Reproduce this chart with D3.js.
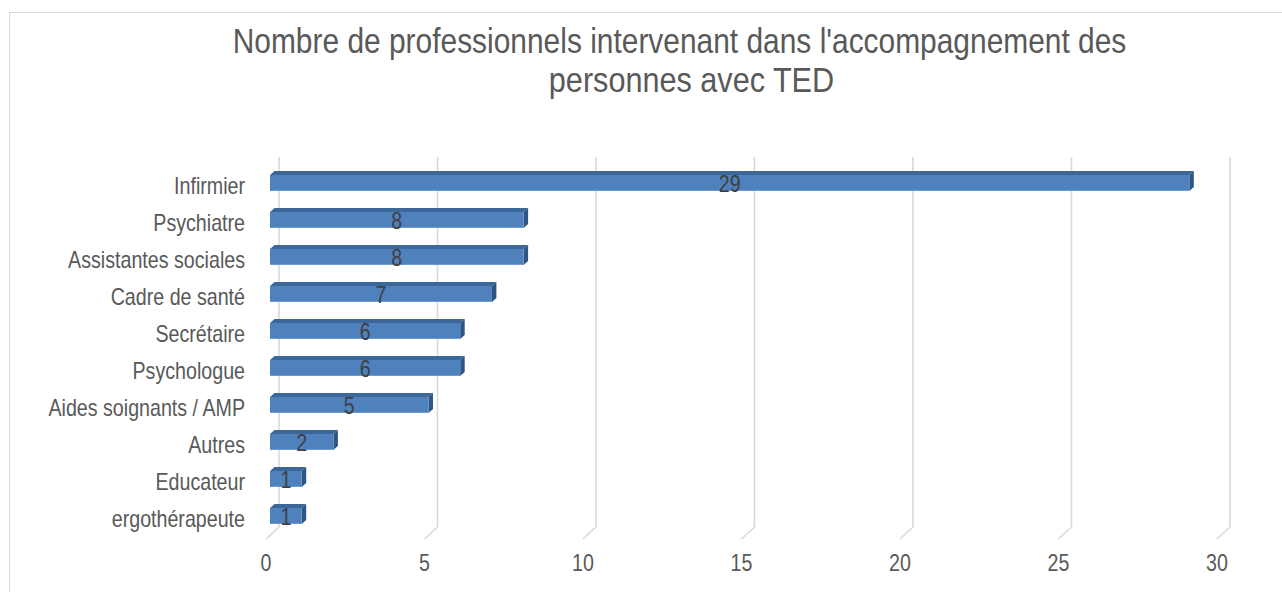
<!DOCTYPE html>
<html><head><meta charset="utf-8">
<script src="https://cdn.jsdelivr.net/npm/d3@7"></script>
<style>body{margin:0;background:#fff;} svg{display:block;}</style>
</head><body>
<svg id="c" width="1282" height="592"></svg>
<script>
const categories = ["Infirmier","Psychiatre","Assistantes sociales","Cadre de santé","Secrétaire","Psychologue","Aides soignants / AMP","Autres","Educateur","ergothérapeute"];
const values = [29,8,8,7,6,6,5,2,1,1];
const ticks = [0,5,10,15,20,25,30];
const titleLines = ["Nombre de professionnels intervenant dans l'accompagnement des","personnes avec TED"];

const svg = d3.select("#c");
const SX = 0.855;
const FONT = "'Liberation Sans', Arial, sans-serif";

svg.append("rect").attr("x",9.5).attr("y",12.5).attr("width",1300).attr("height",600)
  .attr("fill","#fff").attr("stroke","#d9d9d9").attr("stroke-width",1);

const x = d3.scaleLinear().domain([0,30]).range([279,1230]);
const y = d3.scaleBand().domain(categories).range([157,527]);

const floorDX = -13, floorDY = 12;
const barFrontDX = -9, barFrontDY = 7.5, barH = 16, depthX = 4.5, depthY = -4;

function stext(g, tx, ty, str, opts){
  return g.append("text")
    .attr("transform",`translate(${tx},${ty}) scale(${opts.sx||SX},1)`)
    .attr("x",0).attr("y",0)
    .attr("font-family",FONT)
    .attr("font-size",opts.size)
    .attr("fill",opts.fill)
    .attr("text-anchor",opts.anchor||"middle")
    .attr("dominant-baseline",opts.base||"auto")
    .text(str);
}

const grid = svg.append("g");
ticks.forEach(v=>{
  grid.append("path")
    .attr("d",`M${x(v)},157 L${x(v)},527 L${x(v)+floorDX},${527+floorDY}`)
    .attr("fill","none").attr("stroke","#d9d9d9").attr("stroke-width",1.6);
});

const tg = svg.append("g");
ticks.forEach(v=>{
  stext(tg, x(v)+floorDX, 571, String(v), {size:"23px", fill:"#595959"});
});

const bars = svg.append("g");
categories.forEach((c,i)=>{
  const v = values[i];
  const cy = y(c)+y.bandwidth()/2 + barFrontDY;
  const x0 = x(0)+barFrontDX, x1 = x(v)+barFrontDX;
  const yt = cy-barH/2, yb = cy+barH/2;
  bars.append("path")
    .attr("d",`M${x0},${yt} L${x0+depthX},${yt+depthY} L${x1+depthX},${yt+depthY} L${x1},${yt} Z`)
    .attr("fill","#3c679b");
  bars.append("path")
    .attr("d",`M${x1},${yt} L${x1+depthX},${yt+depthY} L${x1+depthX},${yb+depthY} L${x1},${yb} Z`)
    .attr("fill","#2f5582");
  bars.append("rect").attr("x",x0).attr("y",yt).attr("width",x1-x0).attr("height",barH)
    .attr("fill","#4f81bd");
  bars.append("line").attr("x1",x0).attr("x2",x1).attr("y1",yb-0.5).attr("y2",yb-0.5)
    .attr("stroke","#6d9ad2").attr("stroke-width",1);
  stext(bars,(x0+x1)/2, cy+1, String(v), {size:"23px", fill:"#404040", base:"central"});
  stext(svg,245, cy+3, c, {size:"23px", fill:"#595959", anchor:"end", base:"central"});
});

const tt = svg.append("g");
stext(tt, 679.5, 53, titleLines[0], {size:"34.8px", fill:"#595959", sx:0.86});
stext(tt, 691.5, 92, titleLines[1], {size:"34.8px", fill:"#595959", sx:0.88});
</script>
</body></html>
